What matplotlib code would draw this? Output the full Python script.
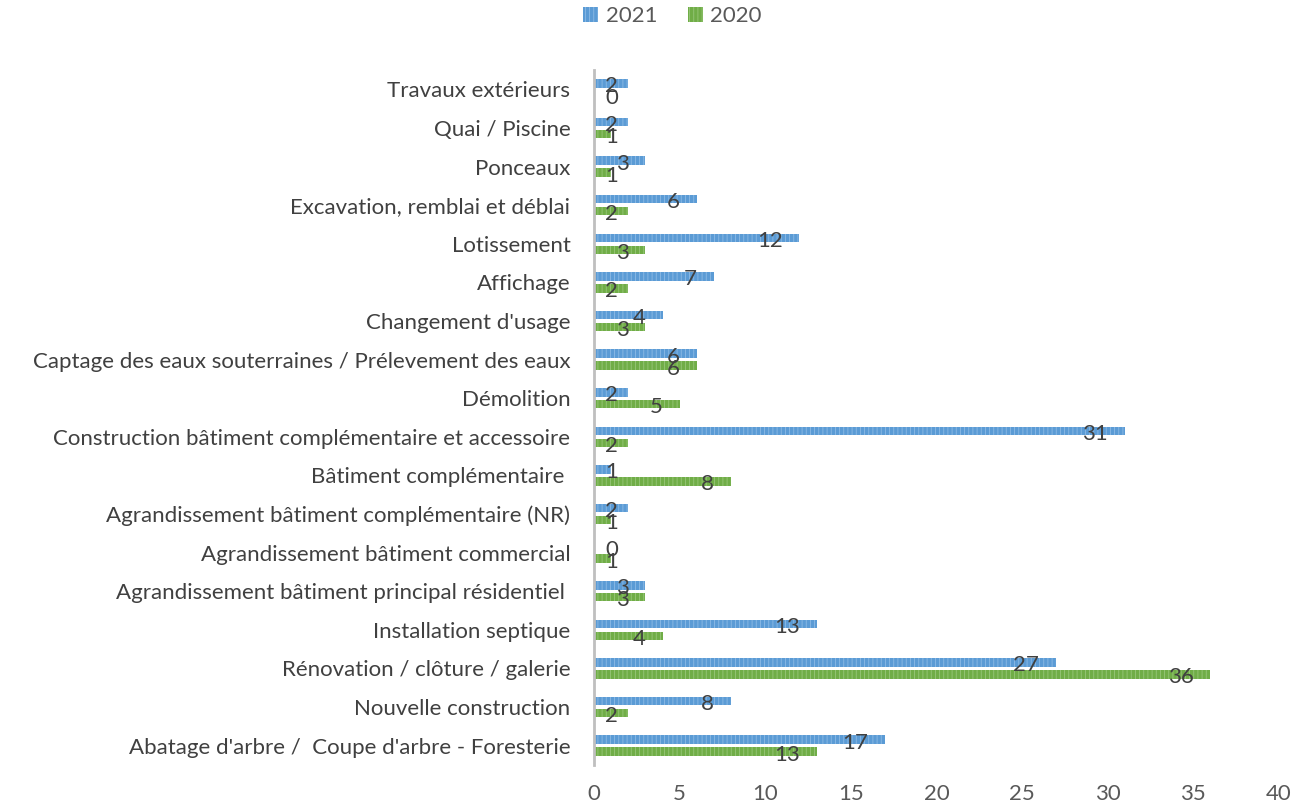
import numpy as np
import matplotlib.pyplot as plt
from matplotlib import transforms

plt.rcParams['font.family'] = ['Lato', 'DejaVu Sans']
plt.rcParams['hatch.linewidth'] = 0.6

# catégories, de haut en bas
categories = [
    "Travaux extérieurs",
    "Quai / Piscine",
    "Ponceaux",
    "Excavation, remblai et déblai",
    "Lotissement",
    "Affichage",
    "Changement d'usage",
    "Captage des eaux souterraines / Prélevement des eaux",
    "Démolition",
    "Construction bâtiment complémentaire et accessoire",
    "Bâtiment complémentaire ",
    "Agrandissement bâtiment complémentaire (NR)",
    "Agrandissement bâtiment commercial",
    "Agrandissement bâtiment principal résidentiel ",
    "Installation septique",
    "Rénovation / clôture / galerie",
    "Nouvelle construction",
    "Abatage d'arbre /  Coupe d'arbre - Foresterie",
]
val_2021 = [2, 2, 3, 6, 12, 7, 4, 6, 2, 31, 1, 2, 0, 3, 13, 27, 8, 17]
val_2020 = [0, 1, 1, 2, 3, 2, 3, 6, 5, 2, 8, 1, 1, 3, 4, 36, 2, 13]
xticks = [0, 5, 10, 15, 20, 25, 30, 35, 40]

bleu = "#5B9BD5"
vert = "#70AD47"
gris_txt = "#404040"
fs = 16

fig = plt.figure(figsize=(13.01, 8.06), dpi=100)
ax = fig.add_axes([0.4566, 0.0509, 0.983 - 0.4566, 0.913 - 0.0509])

y = np.arange(len(categories))
h = 0.22
d = 0.155

b1 = ax.barh(y - d, val_2021, height=h, color=bleu, edgecolor="#8DBBE6",
             linewidth=0, hatch="||||", label="2021")
b2 = ax.barh(y + d, val_2020, height=h, color=vert, edgecolor="#98C77A",
             linewidth=0, hatch="||||", label="2020")

ax.set_ylim(len(categories) - 0.5, -0.5)
ax.set_xlim(0, 40)

# étiquettes de données
for barres, vals in ((b1, val_2021), (b2, val_2020)):
    for yy, v in zip(barres, vals):
        yc = yy.get_y() + yy.get_height() / 2
        px = ax.transData.transform((v, yc))[0]
        px0 = ax.transData.transform((0, yc))[0]
        dx = max(px - 17, px0 + 24) - px
        tr = transforms.offset_copy(ax.transData, fig=fig, x=dx * 0.72, y=-3 * 0.72, units="points")
        ax.text(v, yc, str(v), transform=tr, ha="right", va="center",
                fontsize=fs, color=gris_txt)

ax.set_yticks(y)
ax.set_yticklabels(categories, fontsize=fs, color=gris_txt)
ax.set_xticks(xticks)
ax.set_xticklabels([str(t) for t in xticks], fontsize=fs, color="#595959")
ax.tick_params(axis="both", length=0)
ax.tick_params(axis="y", pad=17)
ax.tick_params(axis="x", pad=14)

for s in ("top", "right", "bottom"):
    ax.spines[s].set_visible(False)
ax.spines["left"].set_color("#BFBFBF")
ax.spines["left"].set_linewidth(2)

fig.legend(handles=[b1, b2], labels=["2021", "2020"], loc="center",
           bbox_to_anchor=(0.517, 0.98), ncol=2, frameon=False,
           fontsize=fs, handlelength=0.65, handleheight=0.65,
           handletextpad=0.35, columnspacing=1.4, labelcolor="#595959")

fig.savefig("out.png", dpi=100)
